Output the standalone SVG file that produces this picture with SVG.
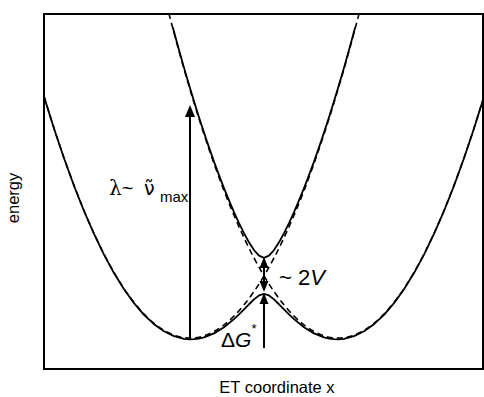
<svg xmlns="http://www.w3.org/2000/svg" width="484" height="397" viewBox="0 0 484 397">
<style>
text{font-family:"Liberation Sans",Arial,sans-serif;fill:#000}
.solid{fill:none;stroke:#000;stroke-width:1.8;stroke-linejoin:round;stroke-linecap:round}
.dash{fill:none;stroke:#000;stroke-width:1.6;stroke-dasharray:6 4}
.arr{stroke:#000;stroke-width:2;fill:none}
.head{fill:#000}
</style>
<defs>
<clipPath id="frameclip"><rect x="45" y="15" width="438" height="353"/></clipPath>
</defs>
<rect id="frame" x="44" y="14" width="439" height="355" fill="none" stroke="#000" stroke-width="2"/>
<g id="curves" clip-path="url(#frameclip)">
<g id="diabatic-left"><path class="dash" d="M44,96.1 Q204,626.4 364,-5.6"/></g>
<g id="diabatic-right"><path class="dash" d="M484,96.1 Q324,626.4 164,-5.6"/></g>
<g id="adiabatic-lower"><polyline class="solid" points="44,96.5 54,128.52 64,158.29 74,185.78 84,211.01 94,233.96 104,254.66 114,273.08 124,289.25 134,303.14 144,314.79 154,324.16 164,331.29 174,336.16 184,338.79 190,339.3 194,339.19 199,338.56 204,337.37 214,333.37 224,327.25 234,319.15 239,314.45 244,309.42 249,304.26 254,299.34 259,295.43 264,293.85 269,295.43 274,299.34 279,304.26 284,309.42 289,314.45 294,319.15 304,327.25 314,333.37 324,337.37 329,338.56 334,339.19 338,339.3 344,338.79 354,336.16 364,331.29 374,324.16 384,314.79 394,303.14 404,289.25 414,273.08 424,254.66 434,233.96 444,211.01 454,185.78 464,158.29 474,128.52 484,96.5"/></g>
<g id="adiabatic-upper"><polyline class="solid" points="173,27.94 179,49.94 184,67.63 189,84.75 194,101.29 199,117.24 204,132.61 209,147.39 214,161.58 219,175.17 224,188.13 229,200.46 234,212.12 239,223.07 244,233.2 249,242.33 254,250.09 259,255.7 264,257.85 269,255.7 274,250.09 279,242.33 284,233.2 289,223.07 294,212.12 299,200.46 304,188.13 309,175.17 314,161.58 319,147.39 324,132.61 329,117.24 334,101.29 339,84.75 344,67.63 349,49.94 355,27.94"/></g>
</g>
<g id="connectors">
<g id="arrow-lambda"><line class="arr" x1="190" y1="338" x2="190" y2="114"/><polygon class="head" points="190,105 185,117 195,117"/></g>
<g id="arrow-2V"><line class="arr" x1="264" y1="266" x2="264" y2="284"/><polygon class="head" points="264,257 259.5,268 268.5,268"/><polygon class="head" points="264,292 259.5,281 268.5,281"/></g>
<g id="arrow-dG"><line class="arr" x1="264" y1="348" x2="264" y2="302"/><polygon class="head" points="264,293 259.5,304 268.5,304"/></g>
</g>
<g id="label-lambda">
<text x="109" y="195" font-size="20"><tspan style="font-family:'DejaVu Serif','Liberation Serif',serif">λ</tspan>~<tspan x="144" style="font-family:'DejaVu Sans',sans-serif" font-size="19">ν̃</tspan><tspan x="160" font-size="15" dy="7">max</tspan></text>
</g>
<g id="label-2V"><text x="279" y="285" font-size="22">~ 2<tspan font-style="italic">V</tspan></text></g>
<g id="label-dG"><text x="221" y="347" font-size="21">Δ<tspan font-style="italic">G</tspan><tspan font-size="13" dy="-14">*</tspan></text></g>
<g id="axis-labels">
<text x="277" y="393" font-size="16.5" text-anchor="middle">ET coordinate x</text>
<text transform="translate(19,198) rotate(-90)" font-size="16.5" text-anchor="middle">energy</text>
</g>
</svg>
